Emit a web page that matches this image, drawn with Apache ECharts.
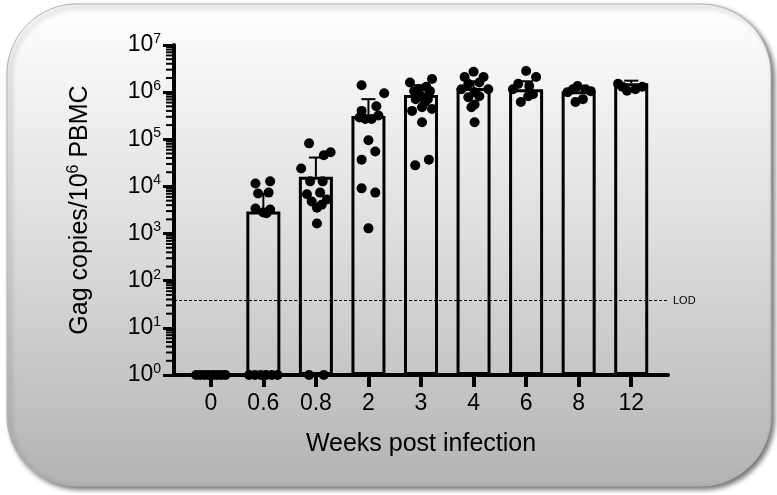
<!DOCTYPE html>
<html><head><meta charset="utf-8">
<script src="https://cdn.jsdelivr.net/npm/echarts@6/dist/echarts.min.js"></script>
<style>html,body{margin:0;padding:0;background:#fff}#c{width:777px;height:495px}</style>
</head><body><div id="c"></div><script>
// ---- data ----
const categories = ['0', '0.6', '0.8', '2', '3', '4', '6', '8', '12'];
const barMeans = [1, 2950, 16000, 310000, 870000, 1220000, 1150000, 1050000, 1550000];
const sdUpper = [null, 7000, 41000, 710000, 1400000, 1700000, 1700000, 1300000, 1750000];
const lodValue = 38;
const yDecades = [0, 1, 2, 3, 4, 5, 6, 7];
// points per group: [jitter offset (category units), Gag copies]
const ptsW0 = [[-0.28, 1], [-0.2, 1], [-0.12, 1], [-0.04, 1], [0.04, 1], [0.12, 1], [0.2, 1], [0.28, 1]];
const ptsW06 = [[-0.27, 1], [-0.16, 1], [-0.05, 1], [0.05, 1], [0.16, 1], [0.27, 1],
  [-0.15, 11500], [0.13, 12800], [-0.1, 7100], [0.1, 7400], [-0.15, 3400], [0, 2800], [0.13, 3250], [0.06, 2700]];
const ptsW08 = [[-0.13, 82000], [0.28, 53000], [0.15, 46000], [-0.28, 24000], [-0.11, 12800], [0.13, 12800],
  [-0.17, 6800], [0.08, 7400], [0.21, 5300], [-0.08, 4800], [0.02, 3550], [0.11, 4100], [0.02, 1630], [-0.13, 1], [0.15, 1]];
const ptsW2 = [[-0.13, 1400000], [0.3, 950000], [-0.13, 400000], [0.15, 500000], [-0.06, 270000], [-0.17, 290000],
  [0.06, 270000], [0.19, 320000], [0, 95000], [0.13, 55000], [-0.13, 37000], [-0.13, 9100], [0.13, 7400], [0, 1290]];
const ptsW3 = [[-0.21, 1600000], [0.21, 1900000], [-0.04, 1150000], [0.1, 1300000], [-0.13, 1050000], [0.17, 1050000],
  [0.02, 810000], [-0.1, 710000], [0.13, 710000], [0.08, 620000], [0.02, 480000], [-0.17, 400000], [0.21, 440000],
  [0.02, 230000], [-0.11, 28000], [0.15, 37000]];
const ptsW4 = [[-0.17, 2100000], [0, 2700000], [0.19, 2100000], [-0.1, 1500000], [0.11, 1600000], [-0.23, 1150000],
  [0.28, 1150000], [0.02, 1000000], [-0.1, 780000], [0.11, 820000], [0.02, 550000], [-0.04, 480000], [0.02, 230000]];
const ptsW6 = [[0, 2800000], [0.19, 2100000], [-0.15, 1500000], [0.06, 1350000], [-0.25, 1150000], [0.04, 820000],
  [-0.1, 620000], [0.13, 900000]];
const ptsW8 = [[-0.21, 1000000], [-0.02, 1350000], [0.13, 1150000], [0.23, 1050000], [-0.06, 620000], [0.08, 710000], [-0.11, 1150000]];
const ptsW12 = [[-0.25, 1500000], [-0.08, 1070000], [0.08, 1150000], [0.21, 1300000], [-0.17, 1300000]];
const groups = [ptsW0, ptsW06, ptsW08, ptsW2, ptsW3, ptsW4, ptsW6, ptsW8, ptsW12];

// ---- derived ----
const xMin = -0.7, xMax = 8.7;
const catIdx = categories.map((c, i) => i);
const scatterData = [];
groups.forEach((g, i) => g.forEach(p => scatterData.push([i + p[0], p[1]])));
const minorTicks = [];
yDecades.slice(0, -1).forEach(d => { for (let k = 2; k <= 9; k++) minorTicks.push([xMin, k * Math.pow(10, d)]); });
const font = 'Liberation Sans, Arial, sans-serif';

const chart = echarts.init(document.getElementById('c'), null, { renderer: 'canvas' });
chart.setOption({
  animation: false,
  graphic: [{
    type: 'rect', z: -100, silent: true,
    shape: { x: 7, y: 4, width: 764, height: 482, r: 70 },
    style: {
      fill: new echarts.graphic.LinearGradient(0, 0, 0, 1, [
        { offset: 0, color: '#ffffff' }, { offset: 0.5, color: '#dcdcdc' }, { offset: 1, color: '#b3b3b3' }]),
      stroke: '#a9b4b4', lineWidth: 1,
      shadowBlur: 5, shadowOffsetX: 3, shadowOffsetY: 3, shadowColor: 'rgba(0,0,0,0.55)'
    }
  }],
  grid: { left: 174, right: 109, top: 45, bottom: 120 },
  xAxis: {
    type: 'value', min: xMin, max: xMax,
    name: 'Weeks post infection', nameLocation: 'middle', nameGap: 57,
    nameTextStyle: { fontSize: 25, color: '#000', fontFamily: font },
    axisLine: { onZero: false, lineStyle: { color: '#000', width: 4 } },
    axisTick: { customValues: catIdx, length: 12, lineStyle: { width: 4, color: '#000' } },
    axisLabel: { customValues: catIdx, formatter: v => categories[Math.round(v)], fontSize: 23, color: '#000', fontFamily: font, margin: 17 },
    splitLine: { show: false }
  },
  yAxis: {
    type: 'log', logBase: 10, min: 1, max: 1e7, interval: 1,
    name: '{a|Gag copies/10}{s|6}{a| PBMC}', nameLocation: 'middle', nameGap: 80, nameRotate: 90,
    nameTextStyle: {
      rich: {
        a: { fontSize: 25, color: '#000', fontFamily: font, lineHeight: 28 },
        s: { fontSize: 16, color: '#000', fontFamily: font, lineHeight: 18, verticalAlign: 'top' }
      }
    },
    axisLine: { show: true, onZero: false, lineStyle: { color: '#000', width: 4 } },
    axisTick: { length: 11, lineStyle: { width: 3, color: '#000' } },
    minorTick: { show: false },
    axisLabel: {
      margin: 13,
      formatter: v => '{b|10}{s|' + Math.round(Math.log10(v)) + '}',
      rich: {
        b: { fontSize: 23, color: '#000', fontFamily: font, lineHeight: 26 },
        s: { fontSize: 14, color: '#000', fontFamily: font, lineHeight: 18, verticalAlign: 'top' }
      }
    },
    splitLine: { show: false }
  },
  series: [
    {
      type: 'custom', coordinateSystem: 'cartesian2d', silent: true, clip: false, z: 3,
      data: minorTicks,
      renderItem: (params, api) => {
        const p = api.coord([api.value(0), api.value(1)]);
        return { type: 'line', shape: { x1: p[0] - 8, y1: p[1], x2: p[0], y2: p[1] }, style: { stroke: '#000', lineWidth: 2 } };
      }
    },
    {
      type: 'bar', barWidth: 34, z: 2,
      data: barMeans.map((m, i) => [i, m]),
      itemStyle: { color: 'rgba(0,0,0,0)', borderColor: '#000', borderWidth: 3 },
      markLine: {
        silent: true, symbol: 'none',
        data: [{ yAxis: lodValue }],
        lineStyle: { color: '#000', width: 1, type: [3, 2] },
        label: { position: 'end', formatter: 'LOD', fontSize: 11, color: '#000', fontFamily: font, distance: 5 }
      }
    },
    {
      type: 'custom', coordinateSystem: 'cartesian2d', silent: true, z: 4,
      data: barMeans.map((m, i) => [i, m, sdUpper[i]]).filter(d => d[2] != null),
      renderItem: (params, api) => {
        const b = api.coord([api.value(0), api.value(1)]);
        const t = api.coord([api.value(0), api.value(2)]);
        return {
          type: 'group', children: [
            { type: 'line', shape: { x1: b[0], y1: b[1], x2: t[0], y2: t[1] }, style: { stroke: '#000', lineWidth: 2 } },
            { type: 'line', shape: { x1: t[0] - 7, y1: t[1], x2: t[0] + 7, y2: t[1] }, style: { stroke: '#000', lineWidth: 2 } }
          ]
        };
      }
    },
    {
      type: 'scatter', z: 5, symbol: 'circle', symbolSize: 10,
      data: scatterData,
      itemStyle: { color: '#000', opacity: 1 }
    }
  ]
});
</script></body></html>
